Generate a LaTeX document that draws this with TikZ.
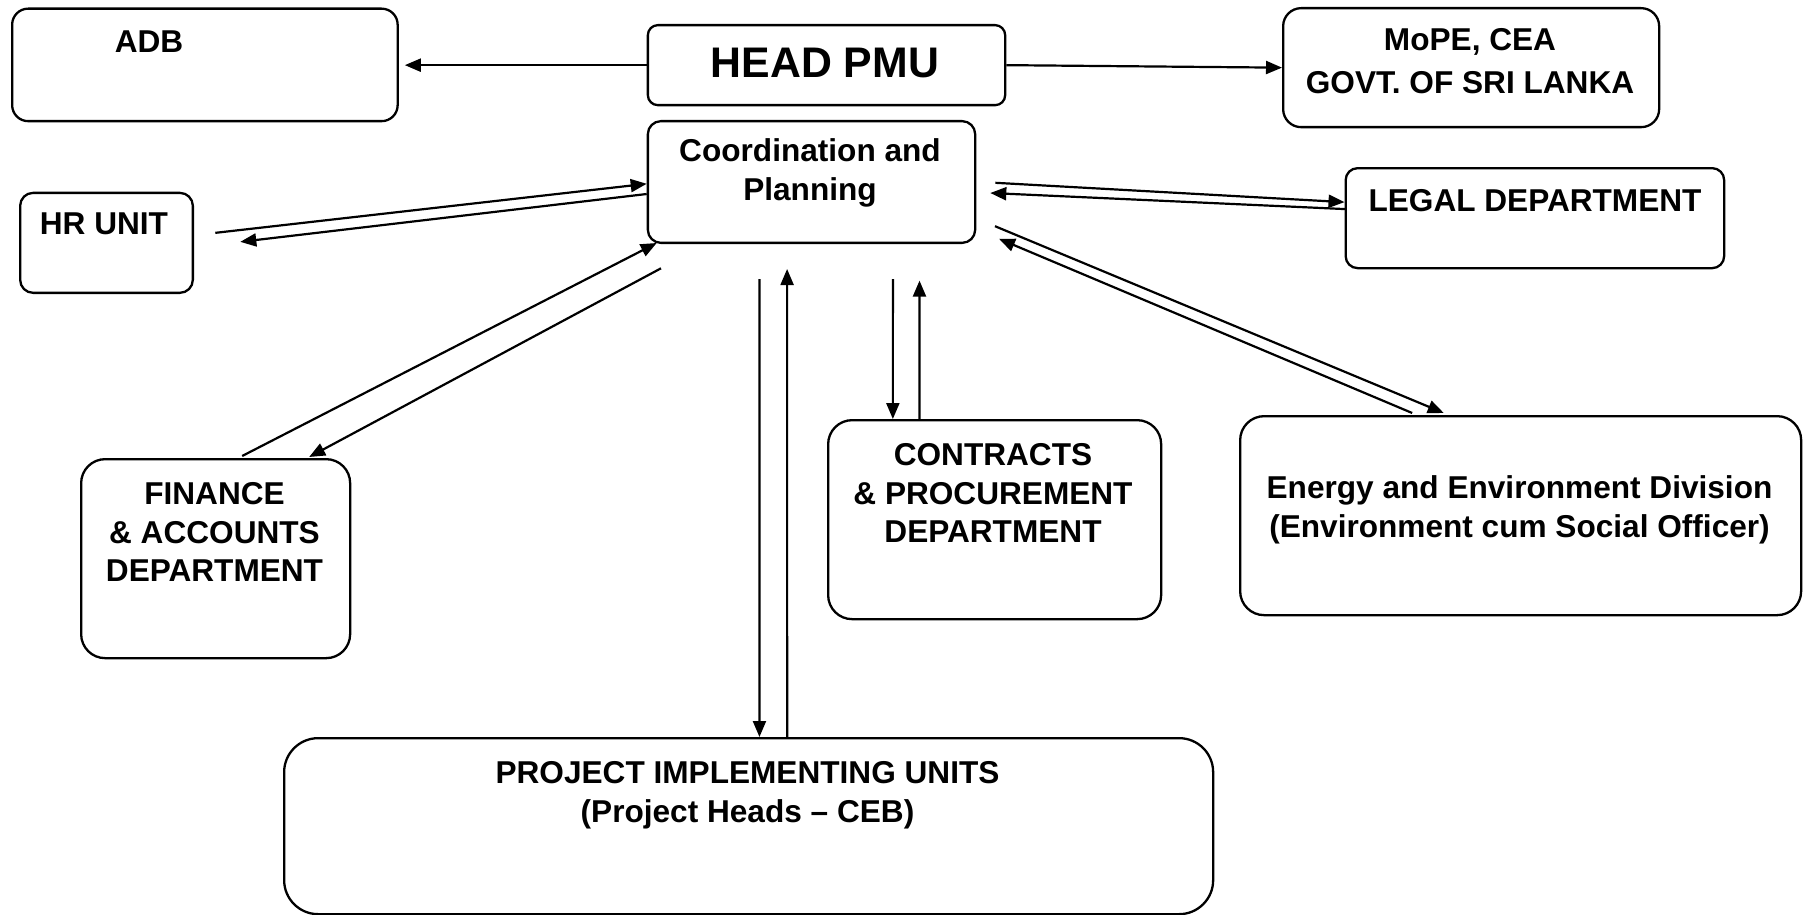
\documentclass[tikz,border=0pt]{standalone}
\usepackage{fontspec}
\setmainfont{Liberation Sans}
\usetikzlibrary{arrows.meta}
\tikzstyle{unit} = [draw=black, line width=1.15pt, rectangle, anchor=north west, inner sep=0pt]
\tikzstyle{unittext} = [inner sep=0pt, align=center, font=\bfseries\fontsize{15.8}{19.3}\selectfont]
\tikzstyle{link} = [line width=1.1pt, -{Triangle[length=8pt,width=6.5pt]}]

\begin{document}
\begin{tikzpicture}[x=0.5pt, y=-0.5pt]
\useasboundingbox (0,0) rectangle (1809,915);

% boxes
\node[unit, rounded corners=8pt, minimum width=192.75pt, minimum height=56.25pt] (adb) at (11,7.5) {};
\node[unit, rounded corners=5pt, minimum width=178.65pt, minimum height=40pt] (pmu) at (646.7,24) {};
\node[unit, rounded corners=9pt, minimum width=188pt, minimum height=59.5pt] (mope) at (1282,7) {};
\node[unit, rounded corners=6.5pt, minimum width=163.65pt, minimum height=60.85pt] (coord) at (646.7,120) {};
\node[unit, rounded corners=6.5pt, minimum width=86.35pt, minimum height=50pt] (hr) at (19,191.7) {};
\node[unit, rounded corners=6pt, minimum width=189.25pt, minimum height=50pt] (legal) at (1344.5,167) {};
\node[unit, rounded corners=12pt, minimum width=134.5pt, minimum height=99.5pt] (fin) at (80,458) {};
\node[unit, rounded corners=12pt, minimum width=166.5pt, minimum height=99.5pt] (contr) at (827,419) {};
\node[unit, rounded corners=12pt, minimum width=280.5pt, minimum height=99.5pt] (energy) at (1239,415) {};
\node[unit, rounded corners=17pt, minimum width=464.5pt, minimum height=88pt] (piu) at (283,737) {};

% texts
\node[unittext] (adbT) at (149,42) {ADB};
\node[unittext, font=\bfseries\fontsize{21.4}{26}\selectfont] (pmuT) at (825,63) {HEAD PMU};
\node[unittext, font=\bfseries\fontsize{15.8}{21.6}\selectfont] (mopeT) at (1470,61) {MoPE, CEA\\GOVT. OF SRI LANKA};
\node[unittext] (coordT) at (810,173) {Coordination and\\Planning};
\node[unittext] (hrT) at (104,224) {HR UNIT};
\node[unittext] (legalT) at (1535,200.5) {LEGAL DEPARTMENT};
\node[unittext] (finT) at (214.5,532) {FINANCE\\\& ACCOUNTS\\DEPARTMENT};
\node[unittext] (contrT) at (993,493) {CONTRACTS\\\& PROCUREMENT\\DEPARTMENT};
\node[unittext] (energyT) at (1519.5,510) {Energy and Environment Division\\(Environment cum Social Officer)};
\node[unittext] (piuT) at (747.5,795) {PROJECT IMPLEMENTING UNITS\\(Project Heads -- CEB)};

% head pmu links
\draw[link, shorten >=3pt] (pmu.west) -- (pmu.west -| adb.east);
\draw[link] (pmu.east) -- (mope.west);

% hr unit
\draw[link] ([xshift=10.65pt,yshift=5pt]hr.east) -- ([yshift=-0.9pt]coord.west);
\draw[link] ([yshift=-6pt]coord.west) -- ([xshift=23.15pt,yshift=0.5pt]hr.east);

% legal
\draw[link] ([xshift=9.5pt,yshift=-0.4pt]coord.east) -- ([yshift=8pt]legal.west);
\draw[link] ([xshift=1pt,yshift=4.5pt]legal.west) -- ([xshift=7pt,yshift=-5.5pt]coord.east);

% finance
\draw[link] ([xshift=13.25pt,yshift=1pt]fin.north) -- ([xshift=5pt,yshift=0.5pt]coord.south west);
\draw[link] ([xshift=7.15pt,yshift=-12.15pt]coord.south west) -- ([xshift=46.75pt,yshift=0.5pt]fin.north);

% project units
\draw[link] ([xshift=-26pt,yshift=-17.5pt]coord.south) -- ([xshift=5.4pt]piu.north);
\draw[link] ([xshift=19.25pt]piu.north) -- ([xshift=-12.2pt,yshift=-12.5pt]coord.south);

% contracts
\draw[link] ([xshift=40.7pt,yshift=-17.5pt]coord.south) -- ([xshift=-50.9pt]contr.north);
\draw[link] ([xshift=-37.6pt]contr.north) -- ([xshift=54pt,yshift=-18.3pt]coord.south);

% energy
\draw[link] ([xshift=9.35pt,yshift=-22.1pt]coord.east) -- ([xshift=-38.45pt,yshift=1pt]energy.north);
\draw[link] ([xshift=-54.25pt,yshift=1pt]energy.north) -- ([xshift=11.35pt,yshift=-28.4pt]coord.east);
\end{tikzpicture}
\end{document}
